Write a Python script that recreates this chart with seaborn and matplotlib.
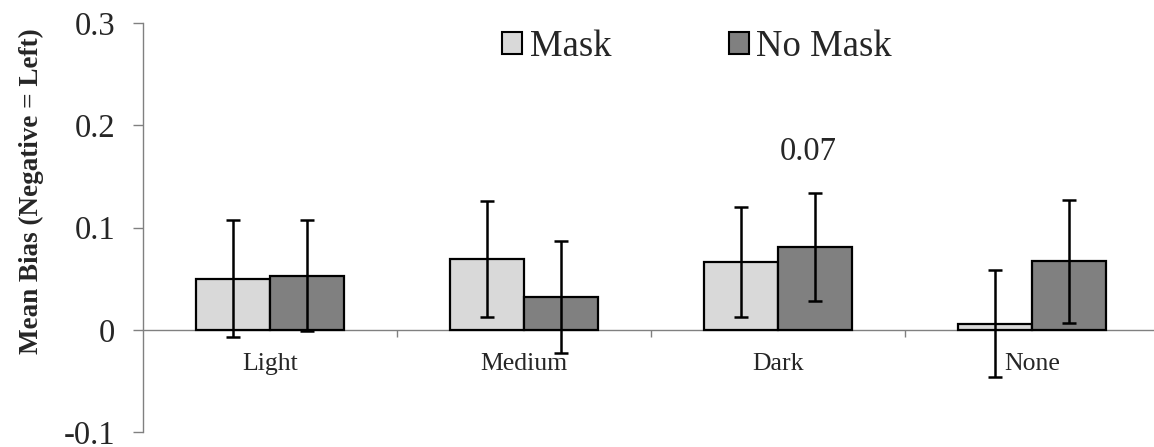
import matplotlib
matplotlib.use("Agg")
import matplotlib.pyplot as plt
import seaborn as sns
import pandas as pd
import numpy as np
from matplotlib.patches import Patch

categories = ["Light", "Medium", "Dark", "None"]
mask_means = [0.050, 0.069, 0.066, 0.006]
mask_err = [0.057, 0.057, 0.054, 0.052]
nomask_means = [0.053, 0.032, 0.081, 0.067]
nomask_err = [0.054, 0.055, 0.053, 0.060]
series = ["Mask", "No Mask"]
yticks = [-0.1, 0, 0.1, 0.2, 0.3]
annotation_text = "0.07"
annotation_x = 2.12
annotation_y = 0.174

sns.set_style("white")
plt.rcParams["font.family"] = ["Liberation Serif", "DejaVu Serif"]

df = pd.DataFrame({
    "Category": categories * 2,
    "Group": [series[0]] * 4 + [series[1]] * 4,
    "Mean": mask_means + nomask_means,
    "Err": mask_err + nomask_err,
})

colors = {"Mask": "#D9D9D9", "No Mask": "#808080"}

fig = plt.figure(figsize=(11.54, 4.47), dpi=100)
ax = fig.add_axes([143 / 1154, 15 / 447, 1016 / 1154, 409 / 447])

sns.barplot(data=df, x="Category", y="Mean", hue="Group", order=categories,
            hue_order=series, palette=colors, width=0.58, errorbar=None,
            edgecolor="black", linewidth=1.6, ax=ax, legend=False, zorder=2)

# error bars at bar centers
for container, grp in zip(ax.containers, series):
    sub = df[df["Group"] == grp].set_index("Category").loc[categories]
    xs = [p.get_x() + p.get_width() / 2 for p in container.patches]
    ax.errorbar(xs, sub["Mean"].values, yerr=sub["Err"].values, fmt="none",
                ecolor="black", elinewidth=1.8, capsize=5, capthick=1.8, zorder=3)

ax.set_ylim(-0.1, 0.3)
ax.set_xlim(-0.5, 3.5)
ax.set_yticks(yticks)
ax.set_yticklabels(["-0.1", "0", "0.1", "0.2", "0.3"], fontsize=23.5)
ax.tick_params(axis="y", which="major", direction="out", length=7, width=1,
               color="#808080", left=True, pad=13)

ax.spines["top"].set_visible(False)
ax.spines["right"].set_visible(False)
ax.spines["bottom"].set_position(("data", 0))
for s in ["left", "bottom"]:
    ax.spines[s].set_color("#808080")
    ax.spines[s].set_linewidth(1.0)
    ax.spines[s].set_zorder(1)

ax.set_xticks(range(len(categories)))
ax.set_xticklabels(categories, fontsize=18.5)
ax.tick_params(axis="x", which="major", length=0, pad=17)
ax.set_xticks([0.5, 1.5, 2.5], minor=True)
ax.tick_params(axis="x", which="minor", direction="out", length=5, width=1,
               color="#808080", bottom=True)
ax.set_xlabel("")
ax.set_ylabel("Mean Bias (Negative = Left)", fontsize=19.5, fontweight="bold")
ax.yaxis.set_label_coords((44 - 143) / 1016, (432 - 191) / 409)

ax.text(annotation_x, annotation_y, annotation_text, ha="center", va="center", fontsize=23.5)

handles = [Patch(facecolor=colors[s], edgecolor="black", linewidth=1.5, label=s) for s in series]
fig.legend(handles=handles, loc="center", bbox_to_anchor=(697 / 1154, 1 - 47 / 447),
           ncol=2, frameon=False, fontsize=26.5, handlelength=0.55, handleheight=0.55,
           handletextpad=0.2, columnspacing=3.2)

fig.savefig("out.png", dpi=100)
